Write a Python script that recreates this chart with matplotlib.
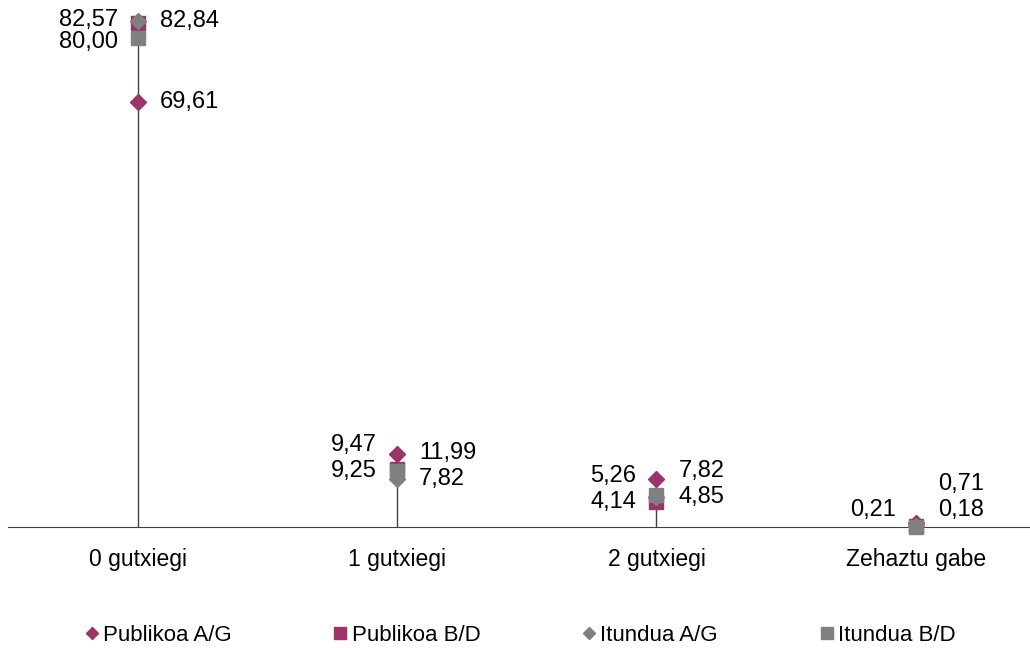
import numpy as np
import matplotlib.pyplot as plt
from matplotlib.lines import Line2D

plt.rcParams['font.family'] = ['Liberation Sans', 'DejaVu Sans']

# data
categories = ['0 gutxiegi', '1 gutxiegi', '2 gutxiegi', 'Zehaztu gabe']
series_names = ['Publikoa A/G', 'Publikoa B/D', 'Itundua A/G', 'Itundua B/D']
publikoa_ag = [69.61, 11.99, 7.82, 0.71]
publikoa_bd = [82.57, 9.47, 4.14, 0.21]
itundua_ag = [82.84, 7.82, 4.85, 0.18]
itundua_bd = [80.00, 9.25, 5.26, 0.00]

purple = '#9b3468'
grey = '#808080'
series = [publikoa_ag, publikoa_bd, itundua_ag, itundua_bd]
colors = [purple, purple, grey, grey]
markers = ['D', 's', 'D', 's']
msizes = [8, 10, 8, 10]
# A/G labels go right, B/D labels left
sides = ['right', 'left', 'right', 'left']

fig = plt.figure(figsize=(10.3, 6.48), dpi=100)
ax = fig.add_axes([8 / 1030, 1 - 527 / 648, 1 - 8 / 1030, 527 / 648])
x = np.arange(len(categories))
ax.set_xlim(-0.5, 3.44)
ax.set_ylim(0, 86.3)

# drop lines from the axis to the highest point
tops = np.max(np.array(series), axis=0)
ax.vlines(x, 0, tops, color='#404040', lw=1, zorder=1)

for vals, c, m, ms in zip(series, colors, markers, msizes):
    ax.plot(x, vals, ls='none', marker=m, ms=ms, color=c, zorder=3, clip_on=False)

# data labels, stacked so they don't overlap
fs = 17
gap = 26
to_px = ax.transData
inv = ax.transData.inverted()
floor_px = to_px.transform((0, 0))[1] + 17
ceil_px = 648 - 20
for i in range(len(categories)):
    for side in ['left', 'right']:
        labs = sorted(vals[i] for vals, s in zip(series, sides)
                      if s == side and vals[i] > 0)
        pos = [max(to_px.transform((0, v))[1], floor_px) for v in labs]
        for k in range(1, len(pos)):
            pos[k] = max(pos[k], pos[k - 1] + gap)
        if pos:
            pos[-1] = min(pos[-1], ceil_px)
        for k in range(len(pos) - 2, -1, -1):
            pos[k] = min(pos[k], pos[k + 1] - 22)
        for v, py in zip(labs, pos):
            yv = inv.transform((0, py))[1]
            txt = f'{v:.2f}'.replace('.', ',')
            if side == 'left':
                ax.annotate(txt, (i, yv), xytext=(-20, 0), textcoords='offset pixels',
                            ha='right', va='center', fontsize=fs)
            else:
                ax.annotate(txt, (i, yv), xytext=(22, 0), textcoords='offset pixels',
                            ha='left', va='center', fontsize=fs)

for sp in ['top', 'right', 'left']:
    ax.spines[sp].set_visible(False)
ax.spines['bottom'].set_color('#404040')
ax.set_yticks([])
ax.set_xticks(x)
ax.set_xticklabels(categories, fontsize=16.5)
ax.tick_params(axis='x', length=0, pad=15)

handles = [Line2D([], [], ls='none', marker=m, color=c, ms=ms * 0.8)
           for m, c, ms in zip(markers, colors, msizes)]
fig.legend(handles, series_names, loc='center', bbox_to_anchor=(0.503, 0.02),
           ncol=4, frameon=False, fontsize=16, handletextpad=0.0,
           columnspacing=4.4, handlelength=1.0)

fig.savefig('out.png', dpi=100)
